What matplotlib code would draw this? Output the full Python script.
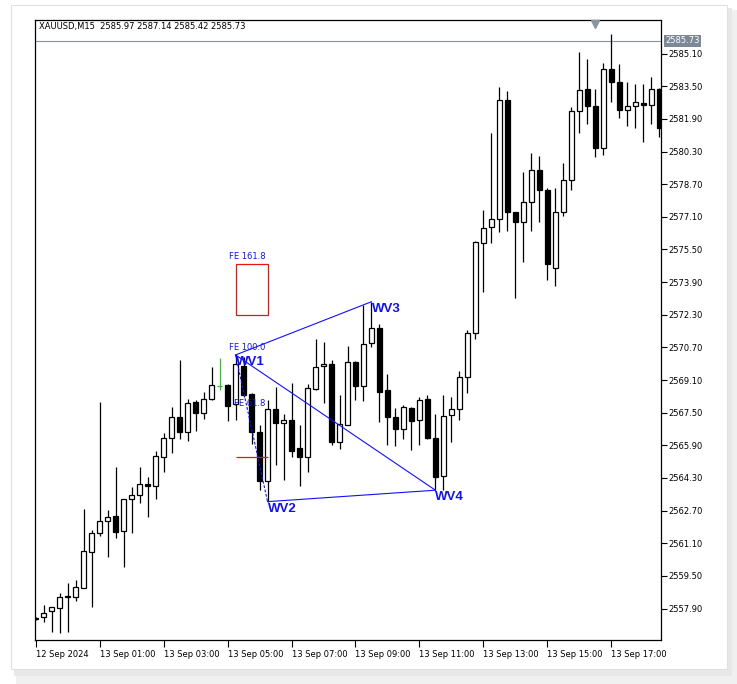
import matplotlib
matplotlib.use("Agg")
import matplotlib.pyplot as plt
from matplotlib.patches import Rectangle
import matplotlib.transforms as mtransforms

# ---------------- data ----------------
opens = [2557.45, 2557.47, 2557.77, 2557.91, 2558.48, 2558.48, 2558.89, 2560.69, 2561.62, 2562.21,
         2562.44, 2561.71, 2563.25, 2563.45, 2564.00, 2563.92, 2565.34, 2566.24, 2567.27, 2566.57,
         2568.01, 2567.47, 2568.16, 2568.81, 2568.86, 2567.93, 2569.79, 2568.42, 2566.54, 2564.17,
         2567.68, 2566.98, 2567.14, 2565.75, 2565.31, 2568.68, 2569.77, 2569.89, 2566.08, 2566.90,
         2570.00, 2568.82, 2570.90, 2571.64, 2568.61, 2567.27, 2566.69, 2567.72, 2567.14, 2568.16,
         2566.24, 2564.40, 2567.37, 2567.67, 2569.26, 2571.39, 2575.80, 2576.59, 2576.99, 2582.81,
         2577.32, 2576.83, 2577.81, 2579.38, 2578.40, 2574.58, 2577.35, 2578.89, 2582.27, 2583.35,
         2582.52, 2580.49, 2584.33, 2583.70, 2582.32, 2582.52, 2582.67, 2582.57, 2583.35]
highs = [2557.50, 2558.07, 2557.98, 2558.68, 2559.14, 2559.30, 2562.78, 2561.75, 2568.01, 2562.73,
         2564.82, 2563.25, 2563.84, 2564.82, 2564.33, 2565.64, 2566.52, 2567.79, 2570.08, 2568.19,
         2568.12, 2568.53, 2569.73, 2570.17, 2568.90, 2570.33, 2570.24, 2568.45, 2566.90, 2568.12,
         2568.77, 2567.42, 2568.94, 2566.90, 2568.89, 2571.10, 2570.95, 2570.08, 2568.37, 2570.77,
         2570.05, 2572.78, 2572.94, 2571.85, 2569.40, 2567.72, 2567.88, 2567.76, 2568.28, 2568.37,
         2567.44, 2568.37, 2568.26, 2569.56, 2571.55, 2575.92, 2577.44, 2581.20, 2583.47, 2583.27,
         2577.35, 2579.31, 2580.23, 2580.08, 2578.50, 2578.50, 2579.74, 2582.50, 2585.20, 2584.84,
         2583.37, 2584.63, 2586.05, 2584.58, 2583.70, 2583.60, 2583.60, 2583.94, 2583.43]
lows = [2557.35, 2557.26, 2556.76, 2556.69, 2556.76, 2558.28, 2558.89, 2557.99, 2561.46, 2560.44,
        2561.37, 2559.95, 2561.62, 2563.06, 2562.40, 2563.27, 2564.61, 2565.54, 2566.20, 2566.13,
        2566.62, 2567.20, 2568.12, 2568.61, 2567.11, 2567.14, 2568.28, 2565.95, 2563.71, 2563.14,
        2564.94, 2564.20, 2565.34, 2563.92, 2564.61, 2568.61, 2567.96, 2565.92, 2565.71, 2566.90,
        2568.12, 2568.09, 2570.71, 2567.06, 2565.92, 2565.87, 2566.20, 2565.67, 2565.92, 2566.20,
        2563.70, 2563.72, 2566.08, 2567.14, 2568.48, 2571.11, 2573.43, 2575.80, 2576.37, 2576.42,
        2573.14, 2574.90, 2576.42, 2576.86, 2574.00, 2573.73, 2577.16, 2578.43, 2581.23, 2581.67,
        2580.05, 2580.15, 2582.74, 2581.96, 2581.57, 2581.47, 2580.78, 2581.67, 2581.03]
closes = [2557.40, 2557.70, 2557.96, 2558.48, 2558.50, 2558.94, 2560.71, 2561.59, 2562.21, 2562.40,
          2561.67, 2563.25, 2563.45, 2563.99, 2563.92, 2565.36, 2566.24, 2567.27, 2566.57, 2567.96,
          2567.50, 2568.16, 2568.84, 2568.81, 2567.84, 2569.89, 2568.37, 2566.57, 2564.17, 2567.68,
          2566.98, 2567.14, 2565.64, 2565.31, 2568.73, 2569.75, 2569.87, 2566.08, 2566.93, 2569.97,
          2568.82, 2570.87, 2571.64, 2568.53, 2567.27, 2566.69, 2567.76, 2567.09, 2568.12, 2566.24,
          2564.33, 2567.35, 2567.67, 2569.26, 2571.39, 2575.85, 2576.54, 2576.98, 2582.81, 2577.32,
          2576.83, 2577.81, 2579.38, 2578.40, 2574.80, 2577.35, 2578.89, 2582.27, 2583.30, 2582.52,
          2580.49, 2584.33, 2583.70, 2582.32, 2582.52, 2582.72, 2582.57, 2583.35, 2581.47]

tick_positions = [0, 8, 16, 24, 32, 40, 48, 56, 64, 72]
tick_labels = ["12 Sep 2024", "13 Sep 01:00", "13 Sep 03:00", "13 Sep 05:00", "13 Sep 07:00",
               "13 Sep 09:00", "13 Sep 11:00", "13 Sep 13:00", "13 Sep 15:00", "13 Sep 17:00"]
price_ticks = [2557.90, 2559.50, 2561.10, 2562.70, 2564.30, 2565.90, 2567.50, 2569.10, 2570.70,
               2572.30, 2573.90, 2575.50, 2577.10, 2578.70, 2580.30, 2581.90, 2583.50, 2585.10]

wave_names = ["WV1", "WV2", "WV3", "WV4"]
wave_idx = [25, 29, 42, 50]
wave_price = [2570.33, 2563.14, 2572.94, 2563.70]

fe_names = ["FE 161.8", "FE 100.0", "FE 61.8"]
fe_levels = [2574.77, 2570.33, 2567.58]
fe_box = [2572.27, 2574.77]      # red rectangle bottom / top
red_level = 2565.31
fe_span = [25, 29]
green_bar = 23

last_price = 2585.73
header = "XAUUSD,M15  2585.97 2587.14 2585.42 2585.73"
shift_marker_idx = 70

# ---------------- figure ----------------
W, H = 737, 684
fig = plt.figure(figsize=(W / 100, H / 100), dpi=100, facecolor="white")
plt.rcParams["font.family"] = ["DejaVu Sans"]

# window panel with soft shadow
def px_rect(x0, y0, x1, y1, **kw):
    return Rectangle((x0 / W, 1 - y1 / H), (x1 - x0) / W, (y1 - y0) / H,
                     transform=fig.transFigure, **kw)

fig.patches.append(px_rect(16, 10, 737, 684, facecolor="#f0f0f0", edgecolor="none", zorder=-3))
fig.patches.append(px_rect(14, 8, 732, 676, facecolor="#e8e8e8", edgecolor="none", zorder=-2))
fig.patches.append(px_rect(11, 5, 727, 669, facecolor="white", edgecolor="#e0e0e0",
                           linewidth=0.8, zorder=-1))

ax_l, ax_r, ax_t, ax_b = 35.3, 661.0, 20.0, 640.0
ax = fig.add_axes([ax_l / W, 1 - ax_b / H, (ax_r - ax_l) / W, (ax_b - ax_t) / H])
ax.set_zorder(1)
ax.set_facecolor("white")

n = len(opens)
xs = list(range(n))
body_w = 0.6
for i in xs:
    o, h, l, c = opens[i], highs[i], lows[i], closes[i]
    col = "#22cc22" if i == green_bar else "black"
    ax.vlines(i, l, h, color=col, linewidth=0.9, zorder=2)
    if i == green_bar:
        ax.hlines(c, i - body_w / 2, i + body_w / 2, color=col, linewidth=0.9, zorder=3)
        continue
    fill = "white" if c >= o else "black"
    ax.bar(i, abs(c - o), bottom=min(o, c), width=body_w, facecolor=fill,
           edgecolor="black", linewidth=0.9, zorder=3)

# price line
ax.axhline(last_price, color="#8793a0", linewidth=0.8, zorder=1)

# wave lines
blue = "#1010ff"
p = dict(zip(wave_names, zip(wave_idx, wave_price)))
for a, b in [("WV1", "WV3"), ("WV1", "WV4"), ("WV2", "WV4")]:
    ax.plot([p[a][0], p[b][0]], [p[a][1], p[b][1]], color=blue, linewidth=0.8, zorder=5)
ax.plot([p["WV1"][0], p["WV2"][0]], [p["WV1"][1], p["WV2"][1]], color=blue,
        linewidth=0.8, linestyle=(0, (2.5, 1.5)), zorder=5)

for name, xi, yi in zip(wave_names, wave_idx, wave_price):
    ax.annotate(name, xy=(xi, yi), xytext=(0, -1), textcoords="offset pixels",
                ha="left", va="top", color=blue, fontsize=9.5, fontweight="bold",
                family="Liberation Sans", zorder=6)

# FE levels and boxes
ax.add_patch(Rectangle((fe_span[0], fe_box[0]), fe_span[1] - fe_span[0], fe_box[1] - fe_box[0],
                       facecolor="none", edgecolor="#ee1111", linewidth=0.9, zorder=4))
ax.hlines(red_level, fe_span[0], fe_span[1], color="#ee1111", linewidth=0.9, zorder=4)
for name, lv in zip(fe_names, fe_levels):
    ax.annotate(name, xy=(fe_span[1] - 0.3, lv), xytext=(0, 3), textcoords="offset pixels",
                ha="right", va="bottom", color=blue, fontsize=6, zorder=6)

# axes styling
ax.set_xlim(-0.05, (ax_r - ax_l) / 8.0)
top_p = 2587.73 - ax_t / 20.4
bot_p = 2587.73 - ax_b / 20.4
ax.set_ylim(bot_p, top_p)
for s in ax.spines.values():
    s.set_color("black")
    s.set_linewidth(0.9)

ax.yaxis.tick_right()
ax.set_yticks(price_ticks)
ax.set_yticklabels([f"{v:.2f}" for v in price_ticks])
ax.set_xticks(tick_positions)
ax.set_xticklabels(tick_labels, ha="left")
ax.tick_params(axis="y", direction="out", length=4, width=0.8, labelsize=6, pad=1.5,
               colors="black")
ax.tick_params(axis="x", direction="out", length=5, width=0.8, labelsize=6, pad=2,
               colors="black")

# header
ax.annotate(header, xy=(0, 1), xycoords="axes fraction", xytext=(4, -7),
            textcoords="offset pixels", ha="left", va="center", fontsize=6, color="black")

# last price label on the right
ax.annotate(f"{last_price:.2f}", xy=(1, last_price), xycoords=("axes fraction", "data"),
            xytext=(4, 0), textcoords="offset pixels", ha="left", va="center", fontsize=6,
            color="white", bbox=dict(boxstyle="square,pad=0.15", facecolor="#7d8896",
                                     edgecolor="none"), annotation_clip=False, zorder=7)

# chart shift marker
trans = mtransforms.blended_transform_factory(ax.transData, ax.transAxes)
ax.plot([shift_marker_idx], [0.994], marker="v", markersize=6, color="#8a96a4",
        transform=trans, clip_on=False, zorder=7)

fig.savefig("out.png", dpi=100, facecolor=fig.get_facecolor())
